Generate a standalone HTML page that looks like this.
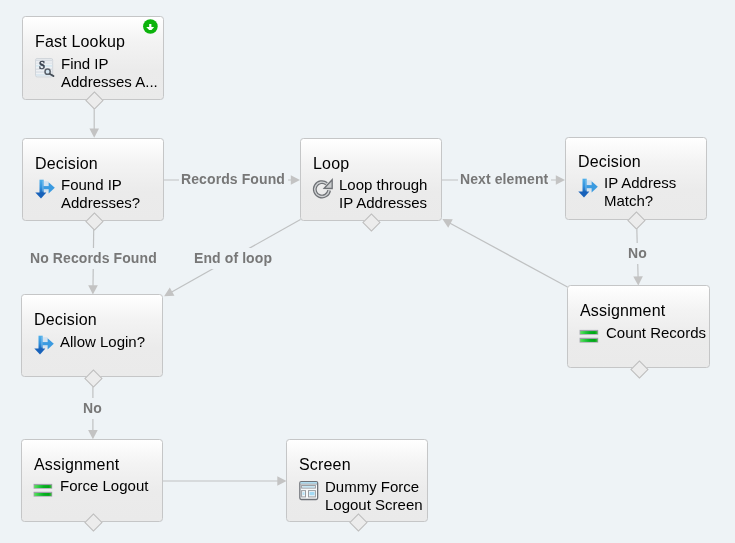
<!DOCTYPE html>
<html><head><meta charset="utf-8">
<style>
html,body{margin:0;padding:0}
body{width:735px;height:543px;overflow:hidden;background:#eef3f6;position:relative;font-family:"Liberation Sans",sans-serif}
svg.wires{position:absolute;left:0;top:0}
.n{position:absolute;box-sizing:border-box;width:142px;height:83px;border:1px solid #c5c6c7;border-radius:3.5px;background:linear-gradient(#fff 0%,#f3f3f3 30%,#ebebeb 65%,#eaeaea 100%)}
.t{position:absolute;left:12px;top:16px;font-size:16px;line-height:18px;color:#000;white-space:nowrap;letter-spacing:0.18px;will-change:transform}
.s{position:absolute;left:38px;top:37px;font-size:15px;line-height:17.5px;color:#000;white-space:nowrap;will-change:transform}
.i{position:absolute;overflow:visible;will-change:transform}
.dm{position:absolute;width:12.9px;height:12.9px;box-sizing:border-box;border:1px solid #bdbdbd;background:#ececec;transform:rotate(45deg)}
.lb{position:absolute;will-change:transform;letter-spacing:0.1px;font-size:14px;font-weight:bold;line-height:16px;color:#777;background:#eef3f6;padding:2px 3px 3px 2px;white-space:nowrap}
</style></head><body>
<svg width="0" height="0" style="position:absolute">
 <defs>
  <linearGradient id="gdec" x1="0" y1="0" x2="0" y2="1">
   <stop offset="0" stop-color="#4fb0ea"/><stop offset="0.6" stop-color="#2f8fdc"/><stop offset="1" stop-color="#1763b8"/>
  </linearGradient>
  <linearGradient id="gbar" x1="0" y1="0" x2="1" y2="0">
   <stop offset="0" stop-color="#5ee05e"/><stop offset="0.3" stop-color="#22c83c"/><stop offset="0.55" stop-color="#06b020"/><stop offset="0.85" stop-color="#00a816"/><stop offset="1" stop-color="#40b840"/>
  </linearGradient>
  <symbol id="ilookup" viewBox="0 0 22 22">
   <rect x="1.5" y="1.5" width="17.2" height="18.4" rx="1.6" fill="#eef1f4" stroke="#cdd2d8" stroke-width="0.9"/>
   <rect x="2" y="2.6" width="16.2" height="1.6" fill="#d5dbe2"/>
   <rect x="2" y="5.6" width="16.2" height="1.2" fill="#dfe4ea"/>
   <rect x="2" y="8.2" width="16.2" height="1.4" fill="#d3e6f0"/>
   <rect x="2" y="11.5" width="16.2" height="1.4" fill="#d8dde4"/>
   <rect x="2" y="14.4" width="16.2" height="1.3" fill="#d8dde4"/>
   <rect x="2" y="17.2" width="16.2" height="1.6" fill="#d6e4ee"/>
   <text x="0" y="0" transform="translate(4.9,11.9) scale(0.86,1.02)" font-family="Liberation Serif" font-weight="bold" font-size="12.8" fill="#3a4351" stroke="#3a4351" stroke-width="0.45">S</text>
   
   <circle cx="13.6" cy="14.7" r="2.6" fill="#d5e6f2" stroke="#596069" stroke-width="1.5"/>
   <path d="M16,17 L19.4,19" stroke="#454d57" stroke-width="2" stroke-linecap="round"/>
  </symbol>
  <symbol id="idec" viewBox="0 0 22 22">
   <rect x="9.4" y="3.2" width="5.2" height="10.4" fill="#c9def0" opacity=".75"/>
   <rect x="5.5" y="1.7" width="4.2" height="13.5" fill="url(#gdec)"/>
   <rect x="8.3" y="2.5" width="1.4" height="11" fill="#8fc8ee" opacity=".6"/>
   <rect x="9.4" y="8.1" width="5.6" height="3.1" fill="#3a9be1"/>
   <polygon points="14.6,4.2 20.8,9.8 14.6,15.5" fill="#3a9ae0"/>
   <polygon points="1.3,14.4 12.4,14.4 7,20.6" fill="#1862ba"/>
  </symbol>
  <symbol id="iloop" viewBox="0 0 24 24">
   <path d="M18.1,13.4 A7.2,7.2 0 1 1 15.6,6.8" fill="none" stroke="#6f7276" stroke-width="3.8"/>
   <path d="M18.1,13.4 A7.2,7.2 0 1 1 15.6,6.8" fill="none" stroke="#cfd1d3" stroke-width="1.4"/>
   <polygon points="13.2,11.3 21.2,2.7 21.2,11.5" fill="#c9cbcd" stroke="#6f7276" stroke-width="1.3" stroke-linejoin="miter"/>
  </symbol>
  <symbol id="iasg" viewBox="0 0 22 22">
   <rect x="0.6" y="4.9" width="18.6" height="4.8" fill="#9fa1ab"/>
   <rect x="1.3" y="6.1" width="17.2" height="2.9" fill="url(#gbar)"/>
   <rect x="0.6" y="12.8" width="18.6" height="4.8" fill="#9fa1ab"/>
   <rect x="1.3" y="14" width="17.2" height="2.9" fill="url(#gbar)"/>
  </symbol>
  <symbol id="iscr" viewBox="0 0 22 22">
   <rect x="1.85" y="1.6" width="17.8" height="17.9" rx="1.4" fill="#f7f9fa" stroke="#6e7278" stroke-width="1.3"/>
   <rect x="2.5" y="2.2" width="16.5" height="1.5" fill="#a6dcf4"/>
   <rect x="2.5" y="3.7" width="16.5" height="0.8" fill="#8d9196"/>
   <rect x="3.6" y="5.5" width="13.8" height="2.6" fill="#eef1f3" stroke="#9a9ea3" stroke-width="1"/>
   <rect x="4.6" y="6.4" width="11.8" height="0.9" fill="#a8def6"/>
   <rect x="3.6" y="10.6" width="3.9" height="6.3" fill="#f5f8fa" stroke="#9a9ea3" stroke-width="1"/>
   <rect x="4.6" y="12.2" width="1.9" height="2.8" fill="#b4e2f7"/>
   <rect x="10.5" y="10.6" width="6.9" height="6.3" fill="#f5f8fa" stroke="#9a9ea3" stroke-width="1"/>
   <rect x="11.5" y="11.9" width="5" height="3.4" fill="#a2daf5"/>
  </symbol>
 </defs>
</svg>
<svg class="wires" width="735" height="543" viewBox="0 0 735 543">
 <g stroke="#bfc1c2" stroke-width="1.2" fill="none">
  <line x1="94.2" y1="100" x2="94.20" y2="129.60"/>
  <line x1="164" y1="180" x2="291.80" y2="180.00"/>
  <line x1="441" y1="180" x2="556.80" y2="180.00"/>
  <line x1="93.8" y1="221.6" x2="93.00" y2="286.20"/>
  <line x1="300.5" y1="219.5" x2="171.25" y2="292.18"/>
  <line x1="636.6" y1="220.3" x2="638.09" y2="277.30"/>
  <line x1="567.5" y1="287" x2="449.61" y2="223.01"/>
  <line x1="92.9" y1="378" x2="92.90" y2="431.00"/>
  <line x1="162.6" y1="481" x2="278.30" y2="481.00"/>
 </g>
 <g fill="#c3c3c3">
  <polygon points="94.20,137.80 89.40,128.60 99.00,128.60"/>
  <polygon points="300.00,180.00 290.80,184.80 290.80,175.20"/>
  <polygon points="565.00,180.00 555.80,184.80 555.80,175.20"/>
  <polygon points="92.90,294.40 88.21,285.14 97.81,285.26"/>
  <polygon points="164.10,296.20 169.77,287.51 174.47,295.87"/>
  <polygon points="638.30,285.50 633.26,276.43 642.86,276.18"/>
  <polygon points="442.40,219.10 452.78,219.27 448.20,227.71"/>
  <polygon points="92.90,439.20 88.10,430.00 97.70,430.00"/>
  <polygon points="286.50,481.00 277.30,485.80 277.30,476.20"/>
 </g>
</svg>

<!-- labels -->
<div class="lb" style="left:179px;top:169px">Records Found</div>
<div class="lb" style="left:458px;top:169px">Next element</div>
<div class="lb" style="left:28px;top:248px">No Records Found</div>
<div class="lb" style="left:192px;top:248px">End of loop</div>
<div class="lb" style="left:626px;top:243px">No</div>
<div class="lb" style="left:81px;top:398px">No</div>

<!-- nodes -->
<div class="n" style="left:22px;top:16px;height:84px">
 <div class="t">Fast Lookup</div>
 <svg class="i" style="left:11px;top:40px;width:22px;height:22px" viewBox="0 0 22 22"><use href="#ilookup"/></svg>
 <div class="s" style="top:38px">Find IP<br>Addresses A...</div>
</div>
<div class="n" style="left:22px;top:138px">
 <div class="t">Decision</div>
 <svg class="i" style="left:11px;top:39px;width:22px;height:22px" viewBox="0 0 22 22"><use href="#idec"/></svg>
 <div class="s">Found IP<br>Addresses?</div>
</div>
<div class="n" style="left:300px;top:138px">
 <div class="t">Loop</div>
 <svg class="i" style="left:10px;top:38px;width:24px;height:24px" viewBox="0 0 24 24"><use href="#iloop"/></svg>
 <div class="s">Loop through<br>IP Addresses</div>
</div>
<div class="n" style="left:565px;top:137px">
 <div class="t" style="top:15px">Decision</div>
 <svg class="i" style="left:11px;top:39px;width:22px;height:22px" viewBox="0 0 22 22"><use href="#idec"/></svg>
 <div class="s" style="top:36px">IP Address<br>Match?</div>
</div>
<div class="n" style="left:567px;top:285px;width:143px">
 <div class="t">Assignment</div>
 <svg class="i" style="left:11.1px;top:39.2px;width:22px;height:22px" viewBox="0 0 22 22"><use href="#iasg"/></svg>
 <div class="s" style="top:38px">Count Records</div>
</div>
<div class="n" style="left:21px;top:294px">
 <div class="t">Decision</div>
 <svg class="i" style="left:11px;top:39px;width:22px;height:22px" viewBox="0 0 22 22"><use href="#idec"/></svg>
 <div class="s" style="top:38px">Allow Login?</div>
</div>
<div class="n" style="left:21px;top:439px">
 <div class="t">Assignment</div>
 <svg class="i" style="left:11.1px;top:39.2px;width:22px;height:22px" viewBox="0 0 22 22"><use href="#iasg"/></svg>
 <div class="s">Force Logout</div>
</div>
<div class="n" style="left:286px;top:439px">
 <div class="t">Screen</div>
 <svg class="i" style="left:11px;top:40px;width:22px;height:22px" viewBox="0 0 22 22"><use href="#iscr"/></svg>
 <div class="s" style="top:38px">Dummy Force<br>Logout Screen</div>
</div>

<svg style="position:absolute;left:142px;top:18px" width="18" height="18" viewBox="0 0 18 18">
 <circle cx="8.4" cy="8.5" r="7.3" fill="#0cb30c"/>
 <path d="M7.2,6 H9.4 V9 H12.2 L9.5,11.9 H7.1 L4.2,9 H7.2 Z" fill="#fff"/>
</svg>
<!-- diamonds -->
<div class="dm" style="left:87.85px;top:93.55px"></div>
<div class="dm" style="left:87.85px;top:215.15px"></div>
<div class="dm" style="left:365.35px;top:215.55px"></div>
<div class="dm" style="left:630.25px;top:213.85px"></div>
<div class="dm" style="left:632.85px;top:362.55px"></div>
<div class="dm" style="left:86.55px;top:371.55px"></div>
<div class="dm" style="left:86.85px;top:516.35px"></div>
<div class="dm" style="left:351.75px;top:516.35px"></div>
</body></html>
